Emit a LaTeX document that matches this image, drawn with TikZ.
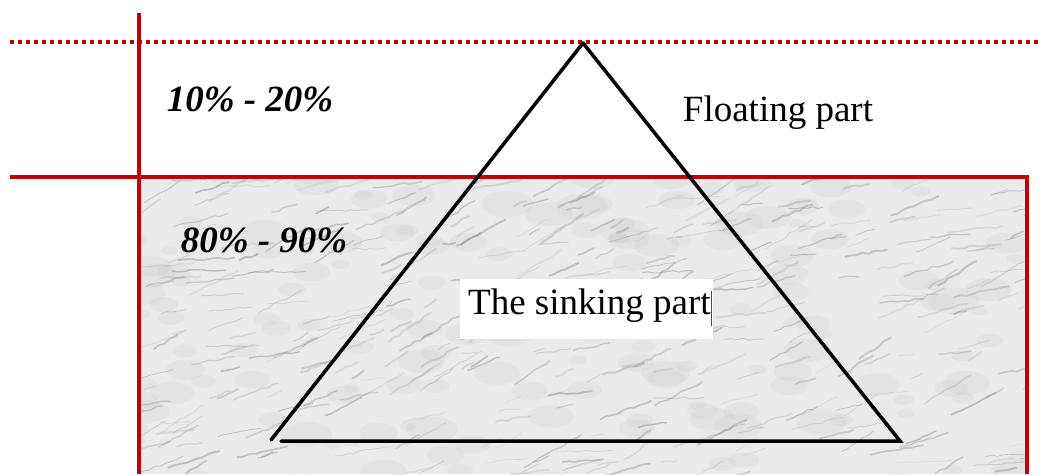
\documentclass[tikz,border=0pt]{standalone}
\usepackage{fontspec}
\setmainfont{Liberation Serif}
\usetikzlibrary{decorations.pathmorphing}
\definecolor{redline}{RGB}{192,0,0}
\definecolor{marblebase}{RGB}{234,234,236}
\definecolor{vein}{RGB}{125,125,130}
\tikzset{
  redrule/.style={draw=redline, line width=3.5pt},
  reddots/.style={draw=redline, line width=3.5pt, dash pattern=on 3.5pt off 4.5pt},
  triside/.style={draw=black, line width=3.5pt, line cap=round},
  pct/.style={font=\fontsize{37}{40}\selectfont\bfseries\itshape, inner sep=0pt},
  lbl/.style={font=\fontsize{37}{40}\selectfont, inner sep=0pt},
  veinline/.style={draw=vein, decorate, decoration={random steps, segment length=6pt, amplitude=1.2pt}}
}
\begin{document}
\begin{tikzpicture}[x=1pt,y=-1pt]
\useasboundingbox (0,0) rectangle (1040,474);
% marble block
\begin{scope}
\clip (140,178) rectangle (1026,474);
\fill[marblebase] (140,178) rectangle (1026,474);
\pgfmathsetseed{11}
\foreach \i in {1,...,160}{
  \pgfmathsetmacro\xx{130+rnd*900}
  \pgfmathsetmacro\yy{170+rnd*310}
  \pgfmathsetmacro\rr{8+rnd*18}
  \fill[gray, opacity=0.06] (\xx,\yy) ellipse [x radius=\rr, y radius=0.5*\rr];
}
\foreach \i in {1,...,380}{
  \pgfmathsetmacro\xx{130+rnd*900}
  \pgfmathsetmacro\yy{170+rnd*310}
  \pgfmathsetmacro\aa{-35+rnd*35}
  \pgfmathsetmacro\ll{12+rnd*45}
  \pgfmathsetmacro\oo{0.12+rnd*0.3}
  \pgfmathsetmacro\ww{0.5+rnd*1.6}
  \draw[veinline, opacity=\oo, line width=\ww pt, line cap=round] (\xx,\yy) -- ++(\aa:\ll);
}
\end{scope}
% red frame lines
\coordinate (vtop) at (139,13);
\coordinate (vbot) at (139,474);
\coordinate (dl) at (10,42);
\coordinate (dr) at (1040,42);
\coordinate (hl) at (10,177);
\coordinate (hr) at (1027,177);
\coordinate (rb) at (1027,474);
\draw[reddots] (dl) -- (dr);
\draw[redrule] (vtop) -- (vbot);
\draw[redrule] (hl) -- (hr) -- (rb);
% triangle
\coordinate (apex) at (583,43);
\coordinate (bl) at (271,440);
\coordinate (bl2) at (281,441);
\coordinate (br) at (900,441);
\draw[triside] (apex) -- (bl);
\draw[triside] (bl2) -- (br) -- (apex);
% labels
\node[pct] (top) at (250,99) {10\% - 20\%};
\node[pct] (bot) at (264,240) {80\% - 90\%};
\node[lbl] (float) at (778,113) {Floating part};
\fill[white] (460,279) rectangle (713,339);
\node[lbl, anchor=west] (sink) at (468,306) {The sinking part};
\coordinate (curt) at (711,291);
\coordinate (curb) at (711,326);
\draw[black!70, line width=0.8pt] (curt) -- (curb);
\end{tikzpicture}
\end{document}
